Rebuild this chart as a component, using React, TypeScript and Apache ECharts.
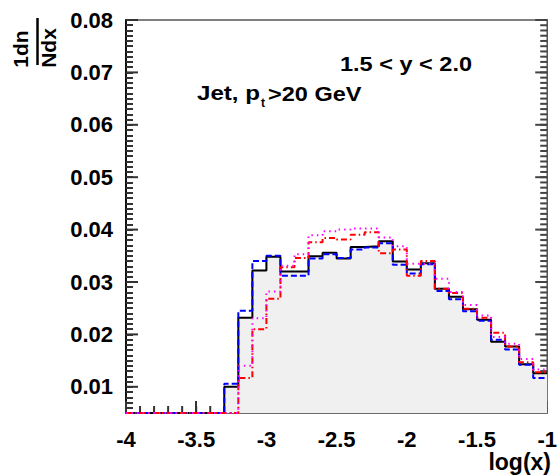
import React, { useEffect, useRef } from "react";
import * as echarts from "echarts";

const binEdges = [
  -4.0, -3.9, -3.8, -3.7, -3.6, -3.5, -3.4, -3.3, -3.2, -3.1, -3.0,
  -2.9, -2.8, -2.7, -2.6, -2.5, -2.4, -2.3, -2.2, -2.1, -2.0,
  -1.9, -1.8, -1.7, -1.6, -1.5, -1.4, -1.3, -1.2, -1.1, -1.0,
];

const blackHist = [
  0.005, 0.005, 0.005, 0.005, 0.005, 0.005, 0.005, 0.0100, 0.0232, 0.0322,
  0.0348, 0.0320, 0.0320, 0.0349, 0.0356, 0.0345, 0.0367, 0.0368, 0.0378, 0.0339,
  0.0324, 0.0336, 0.0287, 0.0272, 0.0248, 0.0228, 0.0186, 0.0177, 0.0143, 0.0126,
];
const blueHist = [
  0.005, 0.005, 0.005, 0.005, 0.005, 0.005, 0.005, 0.0106, 0.0245, 0.0340,
  0.0350, 0.0312, 0.0312, 0.0345, 0.0353, 0.0346, 0.0362, 0.0366, 0.0374, 0.0333,
  0.0316, 0.0334, 0.0283, 0.0267, 0.0244, 0.0226, 0.0190, 0.0171, 0.0142, 0.0117,
];
const redHist = [
  0.005, 0.005, 0.005, 0.005, 0.005, 0.005, 0.005, 0.005, 0.0117, 0.0210,
  0.0268, 0.0328, 0.0346, 0.0376, 0.0384, 0.0381, 0.0390, 0.0395, 0.0355, 0.0362,
  0.0312, 0.0340, 0.0287, 0.0279, 0.0249, 0.0232, 0.0203, 0.0177, 0.0147, 0.0128,
];
const magentaHist = [
  0.005, 0.005, 0.005, 0.005, 0.005, 0.005, 0.005, 0.005, 0.0140, 0.0231,
  0.0282, 0.0331, 0.0353, 0.0389, 0.0397, 0.0400, 0.0402, 0.0402, 0.0385, 0.0368,
  0.0335, 0.0335, 0.0306, 0.0281, 0.0256, 0.0236, 0.0195, 0.0182, 0.0153, 0.0133,
];

const yMajorTicks = [0.01, 0.02, 0.03, 0.04, 0.05, 0.06, 0.07, 0.08];
const xMinorTicks = binEdges.slice(1, -1);
const yAllTicks = Array.from({ length: 75 }, (_, i) => Number((0.006 + i * 0.001).toFixed(3)));

const FONT = "'Liberation Sans', Arial, Helvetica, sans-serif";

function histPoints(values: number[]) {
  const pts: number[][] = values.map((v, i) => [binEdges[i], v]);
  pts.push([binEdges[binEdges.length - 1], values[values.length - 1]]);
  return pts;
}

export default function App() {
  const ref = useRef<HTMLDivElement>(null);

  useEffect(() => {
    if (!ref.current) return;
    const chart = echarts.init(ref.current, undefined, { renderer: "svg" });

    const tickColor = "#333";

    const option: any = {
      animation: false,
      backgroundColor: "#fff",
      grid: {
        left: 126,
        right: 7,
        top: 20,
        bottom: 62,
        show: true,
        borderColor: "#555",
        borderWidth: 1.5,
        backgroundColor: "transparent",
      },
      xAxis: [
        {
          type: "value",
          min: -4,
          max: -1,
          interval: 0.5,
          position: "bottom",
          axisLine: { show: true, onZero: false, lineStyle: { color: "#666", width: 1.5 } },
          axisTick: { show: true, inside: true, length: 12, lineStyle: { color: tickColor, width: 2 } },
          axisLabel: {
            margin: 15,
            fontSize: 22,
            fontWeight: "bold",
            color: "#000",
            fontFamily: FONT,
          },
          splitLine: { show: false },
        },
      ],
      yAxis: [
        {
          type: "value",
          min: 0.005,
          max: 0.08,
          position: "left",
          splitLine: { show: false },
          axisLine: { show: true, onZero: false, lineStyle: { color: "#111", width: 2 } },
          axisTick: {
            show: true,
            inside: true,
            length: 7,
            customValues: yAllTicks,
            lineStyle: { color: tickColor, width: 2 },
          },
          axisLabel: {
            show: true,
            customValues: yMajorTicks,
            margin: 13,
            fontSize: 22,
            fontWeight: "bold",
            color: "#000",
            fontFamily: FONT,
            formatter: (v: number) => v.toFixed(2),
          },
        },
      ],
      series: [
        {
          name: "black",
          type: "line",
          step: "end",
          symbol: "none",
          data: histPoints(blackHist),
          lineStyle: { color: "#000", width: 2 },
          areaStyle: { color: "#f0f0f0", opacity: 1, origin: "start" },
          z: 2,
        },
        {
          name: "blue",
          type: "line",
          step: "end",
          symbol: "none",
          data: histPoints(blueHist),
          lineStyle: { color: "#0000ff", width: 2, type: [6, 3] },
          z: 3,
        },
        {
          name: "red",
          type: "line",
          step: "end",
          symbol: "none",
          data: histPoints(redHist),
          lineStyle: { color: "#ff0000", width: 2, type: [6, 3, 1.5, 3] },
          z: 4,
        },
        {
          name: "magenta",
          type: "line",
          step: "end",
          symbol: "none",
          data: histPoints(magentaHist),
          lineStyle: { color: "#ff00ff", width: 2, type: [1.5, 4] },
          z: 5,
        },
      ],
    };

    chart.setOption(option);

    const toPx = (x: number, y: number): number[] =>
      chart.convertToPixel({ xAxisIndex: 0, yAxisIndex: 0 }, [x, y]) as number[];

    const vTick = (x: number, y: number, len: number, color: string) => ({
      type: "line",
      shape: { x1: x, y1: y, x2: x, y2: y - len },
      style: { stroke: color, lineWidth: 2 },
    });
    const hTick = (x: number, y: number, w: number, color: string) => ({
      type: "rect",
      shape: { x: w >= 0 ? x : x + w, y: y - 1, width: Math.abs(w), height: 2 },
      style: { fill: color },
    });

    const ticks: any[] = [];
    xMinorTicks.forEach((v) => {
      const p = toPx(v, 0.005);
      ticks.push(vTick(p[0], p[1], 7, tickColor));
    });
    yMajorTicks.forEach((v) => {
      const l = toPx(-4, v);
      ticks.push(hTick(l[0], l[1], 12, tickColor));
      const r = toPx(-1, v);
      ticks.push(hTick(r[0], r[1], -12, "#444"));
    });
    yAllTicks.forEach((v) => {
      const r = toPx(-1, v);
      ticks.push(hTick(r[0], r[1], -7, "#444"));
    });

    const texts: any[] = [
      {
        type: "text",
        x: 340,
        y: 53,
        scaleX: 1.12,
        style: { text: "1.5 < y < 2.0", font: `bold 21px ${FONT}`, fill: "#000" },
      },
      {
        type: "text",
        x: 197,
        y: 83,
        scaleX: 1.15,
        style: { text: "Jet, p", font: `bold 21px ${FONT}`, fill: "#000" },
      },
      {
        type: "text",
        x: 261,
        y: 97,
        style: { text: "t", font: `bold 12px ${FONT}`, fill: "#000" },
      },
      {
        type: "text",
        x: 268,
        y: 83,
        scaleX: 1.12,
        style: { text: ">20 GeV", font: `bold 21px ${FONT}`, fill: "#000" },
      },
      {
        type: "text",
        x: 551,
        y: 450,
        style: {
          text: "log(x)",
          font: `bold 23px ${FONT}`,
          fill: "#000",
          align: "right",
          verticalAlign: "top",
        },
      },
      {
        type: "text",
        x: 20,
        y: 49,
        rotation: Math.PI / 2,
        style: {
          text: "1dn",
          font: `bold 21px ${FONT}`,
          fill: "#000",
          align: "center",
          verticalAlign: "middle",
        },
      },
      {
        type: "text",
        x: 48,
        y: 48,
        rotation: Math.PI / 2,
        style: {
          text: "Ndx",
          font: `bold 21px ${FONT}`,
          fill: "#000",
          align: "center",
          verticalAlign: "middle",
        },
      },
      {
        type: "line",
        shape: { x1: 37.5, y1: 18, x2: 37.5, y2: 65 },
        style: { stroke: "#000", lineWidth: 2.5 },
      },
    ];

    chart.setOption({ graphic: [...texts, ...ticks] });
    return () => chart.dispose();
  }, []);

  return (
    <div
      ref={ref}
      style={{ width: 560, height: 475, position: "absolute", left: 0, top: 0 }}
    />
  );
}
